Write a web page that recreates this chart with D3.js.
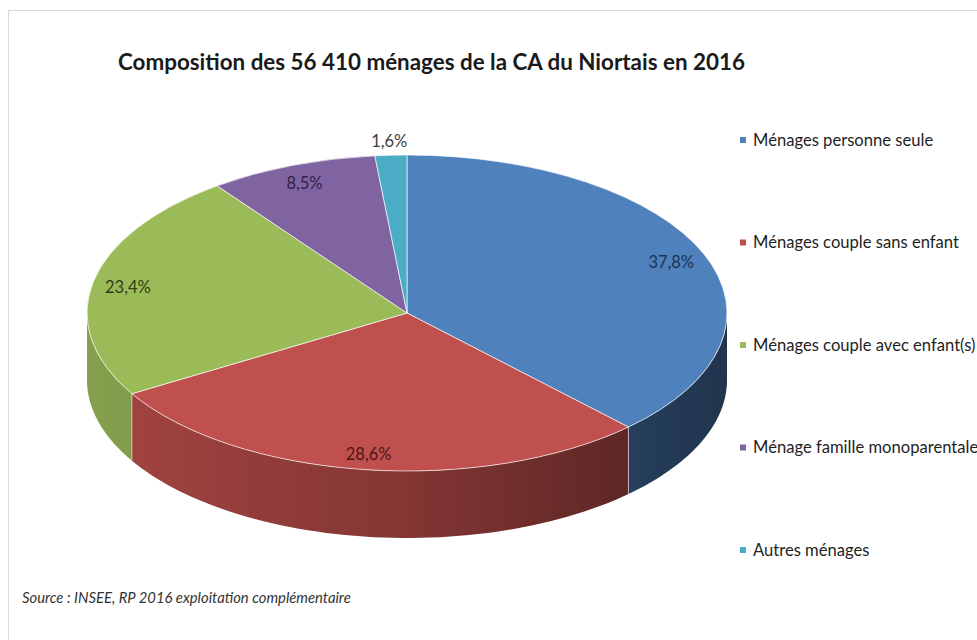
<!DOCTYPE html>
<meta charset="utf-8">
<script src="https://cdn.jsdelivr.net/npm/d3@7"></script>
<style>
    body { margin: 0; background: #fff; }
    .title { font-family: Lato, "Open Sans", sans-serif; font-weight: bold; font-size: 22.4px; fill: #1a1a1a; }
    .legend { font-family: Lato, "Open Sans", sans-serif; font-size: 16.6px; fill: #1f1f1f; }
    .pct { font-family: Lato, "Open Sans", sans-serif; font-size: 16.5px; }
    .source { font-family: Lato, "Open Sans", sans-serif; font-style: italic; font-size: 14.8px; fill: #333; }
</style>
<body>
<script>
    // data
    var categories = ["Ménages personne seule", "Ménages couple sans enfant",
        "Ménages couple avec enfant(s)", "Ménage famille monoparentale", "Autres ménages"];
    var values = [37.8, 28.6, 23.4, 8.5, 1.6];
    var colors = ["#4f81bd", "#c0504d", "#9bbb59", "#8064a2", "#4bacc6"];
    var labelColors = ["#1c3352", "#4e1515", "#2f4016", "#33214a", "#404040"];
    var titleText = "Composition des 56 410 ménages de la CA du Niortais en 2016";
    var sourceText = "Source : INSEE, RP 2016 exploitation complémentaire";

    var width = 977, height = 640;
    var cx = 407, cy = 313, rx = 320, ry = 158, depth = 67;

    var fr = d3.formatLocale({ decimal: ",", thousands: " ", grouping: [3], currency: ["", "€"] });
    var fmt = fr.format(".1f");

    var svg = d3.select("body").append("svg")
        .attr("width", width)
        .attr("height", height);

    // chart frame
    svg.append("rect")
        .attr("x", 8.5).attr("y", 10.5)
        .attr("width", width).attr("height", height)
        .attr("fill", "#fff")
        .attr("stroke", "#d9d9d9");

    svg.append("text")
        .attr("class", "title")
        .attr("x", 118).attr("y", 70)
        .text(titleText);

    var pie = d3.pie().sort(null).value(function (d) { return d; });
    var slices = pie(values);

    function shade(c, f) {
        var r = d3.rgb(c);
        return d3.rgb(r.r * f, r.g * f, r.b * f).formatHex();
    }

    var defs = svg.append("defs");
    slices.forEach(function (s, i) {
        var g = defs.append("linearGradient")
            .attr("id", "side" + i)
            .attr("gradientUnits", "userSpaceOnUse")
            .attr("x1", cx - rx).attr("x2", cx + rx)
            .attr("y1", 0).attr("y2", 0);
        g.append("stop").attr("offset", 0).attr("stop-color", shade(colors[i], 0.86));
        g.append("stop").attr("offset", 0.5).attr("stop-color", shade(colors[i], 0.68));
        g.append("stop").attr("offset", 1).attr("stop-color", shade(colors[i], 0.4));
    });

    function ept(a, dy) {
        return [cx + rx * Math.sin(a), cy - ry * Math.cos(a) + dy];
    }

    // visible outer wall (front half of the ellipse)
    var line = d3.line();
    var sides = svg.append("g");
    slices.forEach(function (s, i) {
        var a0 = Math.max(s.startAngle, Math.PI / 2);
        var a1 = Math.min(s.endAngle, 3 * Math.PI / 2);
        if (a0 >= a1) return;
        var n = 60;
        var angs = d3.range(n + 1).map(function (k) { return a0 + (a1 - a0) * k / n; });
        var pts = angs.map(function (a) { return ept(a, 0); })
            .concat(angs.slice().reverse().map(function (a) { return ept(a, depth); }));
        sides.append("path")
            .attr("d", line(pts) + "Z")
            .attr("fill", "url(#side" + i + ")");
    });
    // vertical seams between walls
    slices.forEach(function (s) {
        var a = s.endAngle;
        if (a > Math.PI / 2 && a < 3 * Math.PI / 2) {
            var p0 = ept(a, 0), p1 = ept(a, depth);
            sides.append("line")
                .attr("x1", p0[0]).attr("y1", p0[1])
                .attr("x2", p1[0]).attr("y2", p1[1])
                .attr("stroke", "#e8d8d8").attr("stroke-opacity", 0.7);
        }
    });

    // top face
    var arc = d3.arc().innerRadius(0).outerRadius(rx);
    var topFace = svg.append("g")
        .attr("transform", "translate(" + cx + "," + cy + ") scale(1," + (ry / rx) + ")");
    topFace.selectAll("path")
        .data(slices)
        .enter().append("path")
        .attr("d", arc)
        .attr("fill", function (d, i) { return colors[i]; })
        .attr("stroke", "#fff")
        .attr("stroke-opacity", 0.65)
        .attr("stroke-width", 1)
        .attr("vector-effect", "non-scaling-stroke");

    // data labels
    var inArc = d3.arc().innerRadius(rx * 0.89).outerRadius(rx * 0.89);
    var outArc = d3.arc().innerRadius(rx * 1.1).outerRadius(rx * 1.1);
    svg.append("g").selectAll("text")
        .data(slices)
        .enter().append("text")
        .attr("class", "pct")
        .attr("text-anchor", "middle")
        .attr("dy", "0.45em")
        .attr("x", function (d) {
            var c = (d.data < 5 ? outArc : inArc).centroid(d);
            return cx + c[0];
        })
        .attr("y", function (d) {
            var c = (d.data < 5 ? outArc : inArc).centroid(d);
            return cy + c[1] * ry / rx;
        })
        .attr("fill", function (d, i) { return labelColors[i]; })
        .text(function (d) { return fmt(d.data) + "%"; });

    // legend
    var ly = d3.scalePoint().domain(categories).range([140, 550]);
    var legend = svg.selectAll(".leg")
        .data(categories)
        .enter().append("g")
        .attr("class", "leg")
        .attr("transform", function (d) { return "translate(740," + ly(d) + ")"; });
    legend.append("rect")
        .attr("x", 0).attr("y", -3)
        .attr("width", 6).attr("height", 6)
        .attr("fill", function (d, i) { return colors[i]; });
    legend.append("text")
        .attr("class", "legend")
        .attr("x", 13)
        .attr("dy", "0.35em")
        .text(String);

    svg.append("text")
        .attr("class", "source")
        .attr("x", 22).attr("y", 603)
        .text(sourceText);
</script>
</body>
